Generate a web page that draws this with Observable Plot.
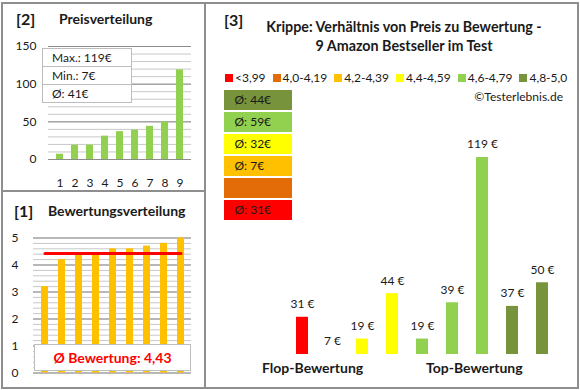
<!DOCTYPE html>
<html><head><meta charset="utf-8">
<script src="https://cdn.jsdelivr.net/npm/d3@7"></script>
<script src="https://cdn.jsdelivr.net/npm/@observablehq/plot@0.6"></script>
<style>
html,body{margin:0;padding:0;background:#fff;}
#root{position:relative;width:580px;height:390px;overflow:hidden;font-family:Lato,"Open Sans",sans-serif;color:#1a1a1a;background:#fff;}
#root svg{position:absolute;left:0;top:0;}
.abs{position:absolute;white-space:nowrap;}
.ln{position:absolute;background:#8e8e8e;}
.tb{font-weight:bold;}
.statbox{position:absolute;left:42px;top:48px;width:90px;height:55px;background:#fff;border:1px solid #bdbdbd;box-sizing:border-box;font-size:12px;}
.statbox div{height:18px;line-height:18px;padding-left:9px;border-bottom:1px solid #bdbdbd;box-sizing:border-box;}
.statbox div:last-child{border-bottom:none;}
.legend{position:absolute;left:225px;top:71px;display:flex;font-size:12px;line-height:14px;}
.legend span.it{display:flex;align-items:center;margin-right:7px;}
.legend i{display:inline-block;width:8px;height:8px;margin-right:2px;}
</style></head><body><div id="root"></div>
<script>
// ---- data ----
const priceIndex = [1,2,3,4,5,6,7,8,9];
const pricesSorted = [7,19,19,31,37,39,44,50,119];
const priceTicks = [0,50,100,150];
const priceStats = ["Max.: 119€","Min.: 7€","Ø: 41€"];

const ratingsSorted = [3.2,4.2,4.4,4.4,4.6,4.6,4.7,4.8,5.0];
const ratingTicks = [0,1,2,3,4,5];
const ratingAvg = 4.43;
const ratingAvgLabel = "Ø Bewertung: 4,43";

const productPrices = [31,7,19,44,19,39,119,37,50];
const productClass = ["<3,99","4,2-4,39","4,4-4,59","4,4-4,59","4,6-4,79","4,6-4,79","4,6-4,79","4,8-5,0","4,8-5,0"];
const classes = ["<3,99","4,0-4,19","4,2-4,39","4,4-4,59","4,6-4,79","4,8-5,0"];
const classColors = ["#FF0000","#E36C09","#FFC000","#FFFF00","#92D050","#77933C"];
const classAvgLabels = ["Ø: 31€","","Ø: 7€","Ø: 32€","Ø: 59€","Ø: 44€"];

const title3 = ["Krippe: Verhältnis von Preis zu Bewertung -","9 Amazon Bestseller im Test"];

// ---- build ----
const root = document.getElementById("root");
const font = {fontFamily:"Lato, 'Open Sans', sans-serif", fontSize:"12px", color:"#1a1a1a", background:"transparent", overflow:"visible"};
function add(html){ root.insertAdjacentHTML("beforeend", html); }

const priceData = priceIndex.map((i,k)=>({i, v:pricesSorted[k]}));
const ratingData = priceIndex.map((i,k)=>({i, v:ratingsSorted[k]}));
const productData = priceIndex.map((i,k)=>({i, price:productPrices[k], cls:productClass[k]}));
const classData = classes.map((c,k)=>({cls:c, label:classAvgLabels[k]}));

// Panel 2: Preisverteilung
const p2 = Plot.plot({
  width:205, height:195, marginLeft:48, marginRight:14, marginTop:46, marginBottom:36,
  style:font,
  x:{type:"band", domain:priceIndex, paddingInner:0.55, paddingOuter:0.275, axis:null, label:null},
  y:{domain:[0,150], axis:null, label:null},
  marks:[
    Plot.ruleY(d3.range(0,151,10), {stroke:"#c8c8c8"}),
    Plot.ruleY(priceTicks, {stroke:"#8c8c8c"}),
    Plot.barY(priceData, {x:"i", y:"v", fill:"#92D050"}),
    Plot.axisY(priceTicks, {tickSize:0, tickPadding:12, label:null}),
    Plot.axisX(priceIndex, {tickSize:0, tickPadding:19, label:null})
  ]
});
root.appendChild(p2);

// Panel 1: Bewertungsverteilung
const p1 = Plot.plot({
  width:205, height:390, marginLeft:33, marginRight:14, marginTop:237.5, marginBottom:17.5,
  style:font,
  x:{type:"band", domain:priceIndex, paddingInner:0.6, paddingOuter:0.3, axis:null, label:null},
  y:{domain:[0,5], axis:null, label:null},
  marks:[
    Plot.ruleY(d3.range(0,26).map(k=>k/5), {stroke:"#c8c8c8"}),
    Plot.ruleY(ratingTicks, {stroke:"#8c8c8c"}),
    Plot.barY(ratingData, {x:"i", y:"v", fill:"#FFC000"}),
    Plot.lineY(ratingData, {x:"i", y:()=>ratingAvg, stroke:"#FF0000", strokeWidth:3}),
    Plot.axisY(ratingTicks, {tickSize:0, tickPadding:15, label:null})
  ]
});
root.appendChild(p1);

// Panel 3: bars
const yMin = 10.5;
const p3 = Plot.plot({
  width:580, height:390, marginLeft:0, marginRight:0, marginTop:0, marginBottom:36,
  style:font,
  x:{type:"band", domain:priceIndex, range:[284.9,558.5], paddingInner:0.6, paddingOuter:0.3, axis:null, label:null},
  y:{domain:[yMin,119], range:[354,157], axis:null, label:null},
  color:{domain:classes, range:classColors},
  marks:[
    Plot.barY(productData, {x:"i", y:"price", fill:"cls", clip:true}),
    Plot.text(productData, {x:"i", y:d=>Math.max(d.price, yMin), text:d=>d.price+" €", dy:-13, fill:"#1a1a1a", fontSize:12})
  ]
});
root.appendChild(p3);

// Panel 3: average boxes
const pb = Plot.plot({
  width:68, height:131, marginLeft:0, marginRight:0, marginTop:0, marginBottom:0,
  style:font,
  x:{domain:[0,1], axis:null},
  y:{type:"band", domain:classes.slice().reverse(), paddingInner:0.1, paddingOuter:0, axis:null, label:null},
  color:{domain:classes, range:classColors},
  marks:[
    Plot.barX(classData, {x1:0, x2:1, y:"cls", fill:"cls", insetTop:0, insetBottom:0}),
    Plot.text(classData, {x:0, y:"cls", text:"label", dx:10, textAnchor:"start", fill:"#1a1a1a", fontSize:12})
  ]
});
pb.style.left = "224px"; pb.style.top = "89px";
root.appendChild(pb);

// frame lines
add(`<div class="ln" style="left:2px;top:2px;width:576px;height:2px"></div>`);
add(`<div class="ln" style="left:2px;top:387px;width:576px;height:2px"></div>`);
add(`<div class="ln" style="left:1px;top:2px;width:2px;height:387px"></div>`);
add(`<div class="ln" style="left:577px;top:2px;width:2px;height:387px"></div>`);
add(`<div class="ln" style="left:204px;top:2px;width:2px;height:387px"></div>`);
add(`<div class="ln" style="left:2px;top:190px;width:203px;height:2px"></div>`);

// titles
add(`<div class="abs tb" style="left:16px;top:9px;font-size:16px">[2]</div>`);
add(`<div class="abs tb" style="left:59px;top:10px;font-size:14px">Preisverteilung</div>`);
add(`<div class="abs tb" style="left:14px;top:201px;font-size:16px">[1]</div>`);
add(`<div class="abs tb" style="left:48px;top:202px;font-size:14px">Bewertungsverteilung</div>`);
add(`<div class="abs tb" style="left:224px;top:10px;font-size:16px">[3]</div>`);
add(`<div class="abs tb" style="left:205px;width:398px;text-align:center;top:17px;font-size:14.3px;line-height:19px">${title3[0]}<br>${title3[1]}</div>`);

// stats box
add(`<div class="statbox">${priceStats.map(s=>`<div>${s}</div>`).join("")}</div>`);
// rating avg box
add(`<div class="abs tb" style="left:34px;top:344px;width:157px;height:27px;background:#fff;border:1px solid #bdbdbd;box-sizing:border-box;color:#FF0000;font-size:14px;line-height:25px;text-align:center">${ratingAvgLabel}</div>`);

// legend
add(`<div class="legend">${classes.map((c,k)=>`<span class="it"><i style="background:${classColors[k]}"></i>${c}</span>`).join("")}</div>`);
add(`<div class="abs" style="right:17px;top:89px;font-size:12px">©Testerlebnis.de</div>`);

// bottom labels
add(`<div class="abs tb" style="left:262px;top:359px;font-size:14px">Flop-Bewertung</div>`);
add(`<div class="abs tb" style="left:426px;top:359px;font-size:14px">Top-Bewertung</div>`);
</script></body></html>
